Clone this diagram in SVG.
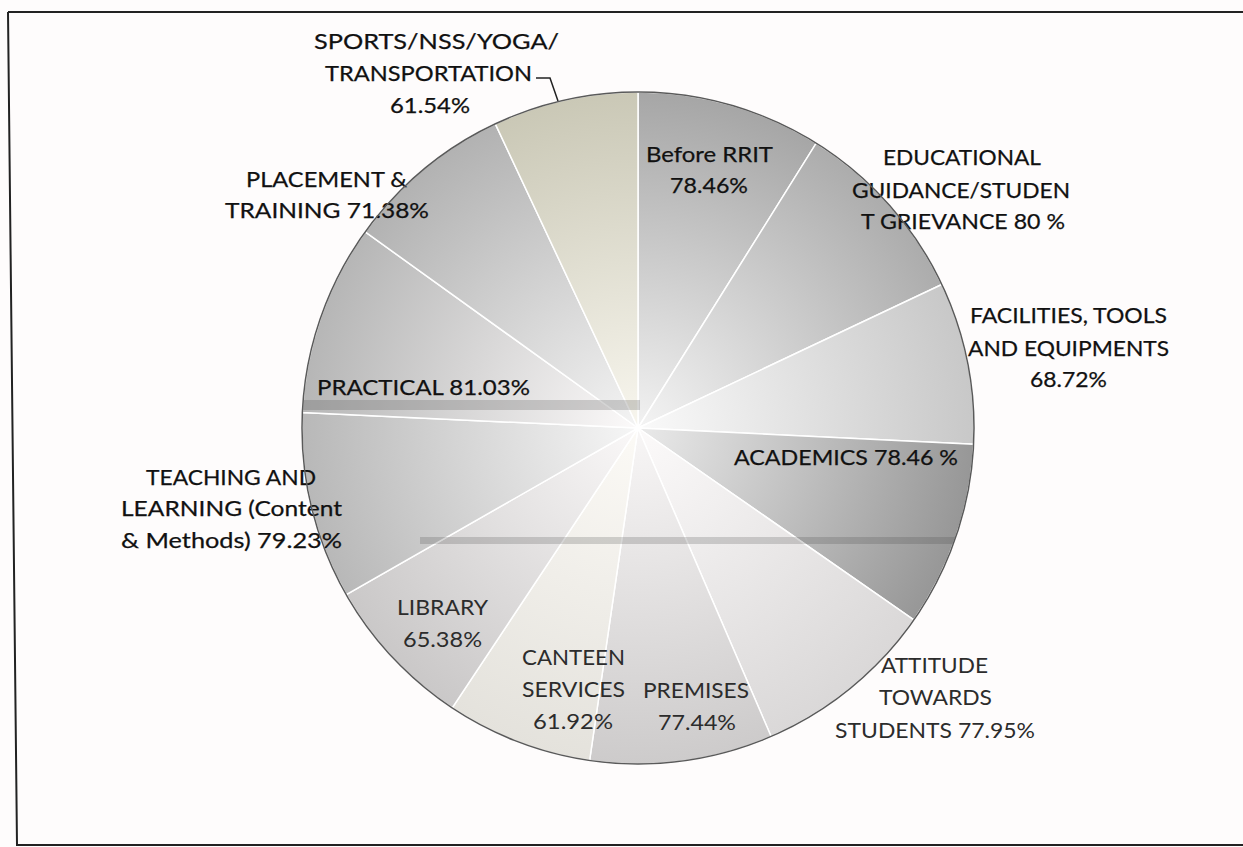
<svg xmlns="http://www.w3.org/2000/svg" width="1243" height="847" viewBox="0 0 1243 847">
<defs>
<style>
.lbl{font-family:Lato,"Liberation Sans",sans-serif;font-size:22px;fill:#111;stroke:#111;stroke-width:0.25;}
.lt{fill:#2c2c2c;stroke:none;}
.sl{stroke:#ffffff;stroke-width:1.5;}
.ldr{fill:none;stroke:#222;stroke-width:1.5;}
</style>
<radialGradient id="gBefore" gradientUnits="userSpaceOnUse" cx="638" cy="428" r="336"><stop offset="0" stop-color="#f2f2f2"/><stop offset="1" stop-color="#a6a6a6"/></radialGradient>
<radialGradient id="gEdu" gradientUnits="userSpaceOnUse" cx="638" cy="428" r="336"><stop offset="0" stop-color="#f4f4f4"/><stop offset="1" stop-color="#acacac"/></radialGradient>
<radialGradient id="gFac" gradientUnits="userSpaceOnUse" cx="638" cy="428" r="336"><stop offset="0" stop-color="#fafafa"/><stop offset="1" stop-color="#c8c8c8"/></radialGradient>
<radialGradient id="gAcad" gradientUnits="userSpaceOnUse" cx="638" cy="428" r="336"><stop offset="0" stop-color="#eaeaea"/><stop offset="1" stop-color="#979797"/></radialGradient>
<radialGradient id="gAtt" gradientUnits="userSpaceOnUse" cx="638" cy="428" r="336"><stop offset="0" stop-color="#fcfafa"/><stop offset="1" stop-color="#dad8d8"/></radialGradient>
<radialGradient id="gPrem" gradientUnits="userSpaceOnUse" cx="638" cy="428" r="336"><stop offset="0" stop-color="#f8f6f6"/><stop offset="1" stop-color="#cdcbcb"/></radialGradient>
<radialGradient id="gCant" gradientUnits="userSpaceOnUse" cx="638" cy="428" r="336"><stop offset="0" stop-color="#fcfaf6"/><stop offset="1" stop-color="#e4e2dc"/></radialGradient>
<radialGradient id="gLib" gradientUnits="userSpaceOnUse" cx="638" cy="428" r="336"><stop offset="0" stop-color="#faf8f8"/><stop offset="1" stop-color="#cac8c8"/></radialGradient>
<radialGradient id="gTeach" gradientUnits="userSpaceOnUse" cx="638" cy="428" r="336"><stop offset="0" stop-color="#f6f6f6"/><stop offset="1" stop-color="#b8b8b8"/></radialGradient>
<radialGradient id="gPract" gradientUnits="userSpaceOnUse" cx="638" cy="428" r="336"><stop offset="0" stop-color="#fcfafa"/><stop offset="1" stop-color="#b6b6b6"/></radialGradient>
<radialGradient id="gPlace" gradientUnits="userSpaceOnUse" cx="638" cy="428" r="336"><stop offset="0" stop-color="#f4f4f4"/><stop offset="1" stop-color="#b2b2b2"/></radialGradient>
<radialGradient id="gSports" gradientUnits="userSpaceOnUse" cx="638" cy="428" r="336"><stop offset="0" stop-color="#f8f6ee"/><stop offset="1" stop-color="#cac8b6"/></radialGradient>
<clipPath id="pieClip"><circle cx="638" cy="428" r="336"/></clipPath>
</defs>
<rect x="0" y="0" width="1243" height="847" fill="#fefcfc"/>
<path d="M8,12 L1243,12 M8,12 L17,845 L1243,845" fill="none" stroke="#222" stroke-width="2"/>

<g id="node-before-rrit">
<path class="sl" fill="url(#gBefore)" d="M638,428 L638,92 A336,336 0 0 1 816.24,143.17 Z"/>
<text class="lbl" x="646" y="162" textLength="127" lengthAdjust="spacingAndGlyphs">Before RRIT</text>
<text class="lbl" x="670" y="193" textLength="78" lengthAdjust="spacingAndGlyphs">78.46%</text>
</g>
<g id="node-educational">
<path class="sl" fill="url(#gEdu)" d="M638,428 L816.24,143.17 A336,336 0 0 1 941.80,284.47 Z"/>
<text class="lbl" x="883" y="165" textLength="158" lengthAdjust="spacingAndGlyphs">EDUCATIONAL</text>
<text class="lbl" x="852" y="198" textLength="218" lengthAdjust="spacingAndGlyphs">GUIDANCE/STUDEN</text>
<text class="lbl" x="861" y="229" textLength="204" lengthAdjust="spacingAndGlyphs">T GRIEVANCE 80 %</text>
</g>
<g id="node-facilities">
<path class="sl" fill="url(#gFac)" d="M638,428 L941.80,284.47 A336,336 0 0 1 973.60,444.29 Z"/>
<text class="lbl" x="970" y="323" textLength="197" lengthAdjust="spacingAndGlyphs">FACILITIES, TOOLS</text>
<text class="lbl" x="968" y="356" textLength="201" lengthAdjust="spacingAndGlyphs">AND EQUIPMENTS</text>
<text class="lbl" x="1030" y="387" textLength="77" lengthAdjust="spacingAndGlyphs">68.72%</text>
</g>
<g id="node-academics">
<path class="sl" fill="url(#gAcad)" d="M638,428 L973.60,444.29 A336,336 0 0 1 913.86,619.84 Z"/>
</g>
<g id="node-attitude">
<path class="sl" fill="url(#gAtt)" d="M638,428 L913.86,619.84 A336,336 0 0 1 771.15,736.49 Z"/>
<text class="lbl lt" x="881" y="673" textLength="107" lengthAdjust="spacingAndGlyphs">ATTITUDE</text>
<text class="lbl lt" x="879" y="705" textLength="113" lengthAdjust="spacingAndGlyphs">TOWARDS</text>
<text class="lbl lt" x="835" y="738" textLength="200" lengthAdjust="spacingAndGlyphs">STUDENTS 77.95%</text>
</g>
<g id="node-premises">
<path class="sl" fill="url(#gPrem)" d="M638,428 L771.15,736.49 A336,336 0 0 1 589.61,760.50 Z"/>
</g>
<g id="node-canteen">
<path class="sl" fill="url(#gCant)" d="M638,428 L589.61,760.50 A336,336 0 0 1 452.20,707.96 Z"/>
</g>
<g id="node-library">
<path class="sl" fill="url(#gLib)" d="M638,428 L452.20,707.96 A336,336 0 0 1 346.23,594.63 Z"/>
</g>
<g id="node-teaching">
<path class="sl" fill="url(#gTeach)" d="M638,428 L346.23,594.63 A336,336 0 0 1 302.35,412.61 Z"/>
<text class="lbl" x="146" y="485" textLength="170" lengthAdjust="spacingAndGlyphs">TEACHING AND</text>
<text class="lbl" x="121" y="516" textLength="221" lengthAdjust="spacingAndGlyphs">LEARNING (Content</text>
<text class="lbl" x="121" y="548" textLength="221" lengthAdjust="spacingAndGlyphs">&amp; Methods) 79.23%</text>
</g>
<g id="node-practical">
<path class="sl" fill="url(#gPract)" d="M638,428 L302.35,412.61 A336,336 0 0 1 365.18,231.87 Z"/>
</g>
<g id="node-placement">
<path class="sl" fill="url(#gPlace)" d="M638,428 L365.18,231.87 A336,336 0 0 1 495.29,123.81 Z"/>
<text class="lbl" x="246" y="187" textLength="161" lengthAdjust="spacingAndGlyphs">PLACEMENT &amp;</text>
<text class="lbl" x="225" y="218" textLength="204" lengthAdjust="spacingAndGlyphs">TRAINING  71.38%</text>
</g>
<g id="node-sports">
<path class="sl" fill="url(#gSports)" d="M638,428 L495.29,123.81 A336,336 0 0 1 638,92 Z"/>
<text class="lbl" x="314" y="49" textLength="245" lengthAdjust="spacingAndGlyphs">SPORTS/NSS/YOGA/</text>
<text class="lbl" x="325" y="81" textLength="207" lengthAdjust="spacingAndGlyphs">TRANSPORTATION</text>
<text class="lbl" x="390" y="113" textLength="80" lengthAdjust="spacingAndGlyphs">61.54%</text>
</g>

<g id="scan-bands" clip-path="url(#pieClip)">
<rect x="300" y="400" width="340" height="10" fill="#555" opacity="0.25"/>
<rect x="420" y="537" width="560" height="7" fill="#444" opacity="0.22"/>
</g>
<circle cx="638" cy="428" r="336" fill="none" stroke="#5a5a5a" stroke-width="1.5"/>

<g id="labels-inside">
<text class="lbl" x="317" y="395" textLength="213" lengthAdjust="spacingAndGlyphs">PRACTICAL  81.03%</text>
<text class="lbl" x="734" y="465" textLength="224" lengthAdjust="spacingAndGlyphs">ACADEMICS 78.46 %</text>
<text class="lbl lt" x="397" y="615" textLength="91" lengthAdjust="spacingAndGlyphs">LIBRARY</text>
<text class="lbl lt" x="403" y="647" textLength="79" lengthAdjust="spacingAndGlyphs">65.38%</text>
<text class="lbl lt" x="522" y="665" textLength="103" lengthAdjust="spacingAndGlyphs">CANTEEN</text>
<text class="lbl lt" x="522" y="697" textLength="103" lengthAdjust="spacingAndGlyphs">SERVICES</text>
<text class="lbl lt" x="533" y="729" textLength="80" lengthAdjust="spacingAndGlyphs">61.92%</text>
<text class="lbl lt" x="643" y="698" textLength="106" lengthAdjust="spacingAndGlyphs">PREMISES</text>
<text class="lbl lt" x="658" y="730" textLength="78" lengthAdjust="spacingAndGlyphs">77.44%</text>
</g>

<g id="connectors">
<path class="ldr" d="M536,78 L550,78 L558,101"/>
</g>
</svg>
